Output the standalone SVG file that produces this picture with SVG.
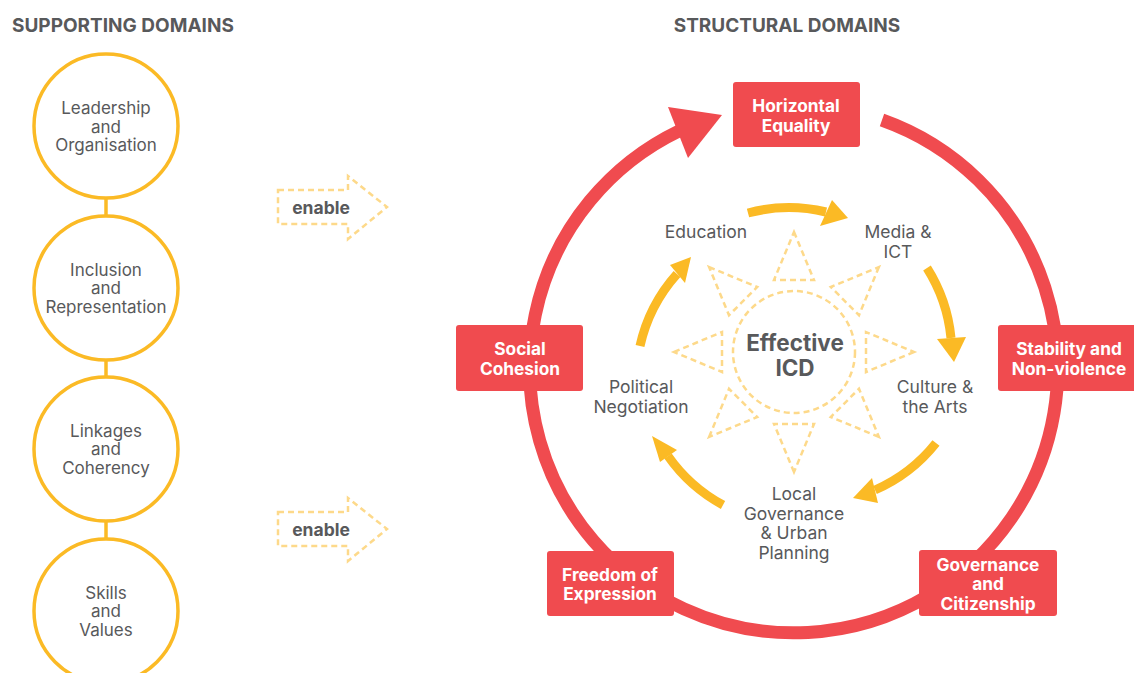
<svg xmlns="http://www.w3.org/2000/svg" width="1134" height="673" viewBox="0 0 1134 673">
<style>
.hd{font-family:Inter,"Liberation Sans",sans-serif;font-weight:700;font-size:19px;fill:#58595B;}
.lt{font-family:Inter,"Liberation Sans",sans-serif;font-size:17.5px;fill:#58595B;text-anchor:middle;}
.ct{font-family:Inter,"Liberation Sans",sans-serif;font-size:17px;fill:#58595B;text-anchor:middle;}
.bt{font-family:Inter,"Liberation Sans",sans-serif;font-weight:700;font-size:17.3px;fill:#fff;text-anchor:middle;}
.en{font-family:Inter,"Liberation Sans",sans-serif;font-weight:700;font-size:17.5px;fill:#58595B;text-anchor:middle;}
.ctr{font-family:Inter,"Liberation Sans",sans-serif;font-weight:700;font-size:22.5px;fill:#58595B;text-anchor:middle;}
.sc{fill:#fff;stroke:#FBBA25;stroke-width:3.5;}
.dash{fill:none;stroke:#FDD98A;stroke-width:2.5;stroke-dasharray:6 4;}
.box{fill:#F04B4F;}
.ya{fill:none;stroke:#FBBA25;stroke-width:9;}
.yh{fill:#FBBA25;}
</style>
<rect width="1134" height="673" fill="#fff"/>
<text class="hd" x="12" y="32">SUPPORTING DOMAINS</text>
<text class="hd" x="787" y="32" text-anchor="middle">STRUCTURAL DOMAINS</text>

<g id="connectors">
  <line x1="106" y1="198" x2="106" y2="216" stroke="#FBBA25" stroke-width="3.5"/>
  <line x1="106" y1="360" x2="106" y2="377" stroke="#FBBA25" stroke-width="3.5"/>
  <line x1="106" y1="521" x2="106" y2="539" stroke="#FBBA25" stroke-width="3.5"/>
  <g id="enable1">
    <polygon class="dash" points="278,190 348,190 348,176 387,207 348,239 348,224 278,224"/>
    <text class="en" x="321" y="214">enable</text>
  </g>
  <g id="enable2">
    <polygon class="dash" points="278,512 348,512 348,498 387,529 348,561 348,546 278,546"/>
    <text class="en" x="321" y="536">enable</text>
  </g>
  <g id="red-cycle">
    <path d="M 882 120 A 264 264 0 1 1 679 131" fill="none" stroke="#F04B4F" stroke-width="13"/>
    <polygon fill="#F04B4F" points="668,107 722,115 688,158"/>
  </g>
  <g id="yellow-cycle">
    <path class="ya" d="M 748 213 A 160 160 0 0 1 826 212"/>
    <polygon class="yh" points="832,200 848,218 820,226"/>
    <path class="ya" d="M 927 268 A 160 160 0 0 1 951 338"/>
    <polygon class="yh" points="937,339 966,337 954,362"/>
    <path class="ya" d="M 936 443 A 160 160 0 0 1 875 490"/>
    <polygon class="yh" points="872,478 878,503 853,498"/>
    <path class="ya" d="M 723 505 A 160 160 0 0 1 668 456"/>
    <polygon class="yh" points="677,450 660,462 652,436"/>
    <path class="ya" d="M 640 346 A 160 160 0 0 1 677 274"/>
    <polygon class="yh" points="670,265 685,283 691,257"/>
  </g>
</g>

<g id="sun">
  <circle class="dash" cx="794" cy="352" r="61"/>
  <polygon class="dash" points="794,232 814,280 774,280"/>
  <polygon class="dash" points="878.9,267.1 859,315.2 830.8,287"/>
  <polygon class="dash" points="914,352 866,372 866,332"/>
  <polygon class="dash" points="878.9,436.9 830.8,417 859,388.8"/>
  <polygon class="dash" points="794,472 774,424 814,424"/>
  <polygon class="dash" points="709.1,436.9 729,388.8 757.2,417"/>
  <polygon class="dash" points="674,352 722,332 722,372"/>
  <polygon class="dash" points="709.1,267.1 757.2,287 729,315.2"/>
</g>
<g id="effective-icd">
  <text class="ctr" x="795" y="351">Effective</text>
  <text class="ctr" x="795" y="376">ICD</text>
</g>

<g id="leadership">
  <circle class="sc" cx="106" cy="126" r="72"/>
  <text class="ct" x="106" y="114">Leadership</text>
  <text class="ct" x="106" y="132.5">and</text>
  <text class="ct" x="106" y="151">Organisation</text>
</g>
<g id="inclusion">
  <circle class="sc" cx="106" cy="288" r="72"/>
  <text class="ct" x="106" y="275.5">Inclusion</text>
  <text class="ct" x="106" y="294">and</text>
  <text class="ct" x="106" y="312.5">Representation</text>
</g>
<g id="linkages">
  <circle class="sc" cx="106" cy="449" r="72"/>
  <text class="ct" x="106" y="436.5">Linkages</text>
  <text class="ct" x="106" y="455">and</text>
  <text class="ct" x="106" y="473.5">Coherency</text>
</g>
<g id="skills">
  <circle class="sc" cx="106" cy="611" r="72"/>
  <text class="ct" x="106" y="598.5">Skills</text>
  <text class="ct" x="106" y="617">and</text>
  <text class="ct" x="106" y="635.5">Values</text>
</g>

<g id="horizontal-equality">
  <rect class="box" x="733" y="82" width="127" height="65" rx="3"/>
  <text class="bt" x="796" y="112">Horizontal</text>
  <text class="bt" x="796" y="132">Equality</text>
</g>
<g id="social-cohesion">
  <rect class="box" x="456" y="325" width="127" height="66" rx="3"/>
  <text class="bt" x="520" y="355">Social</text>
  <text class="bt" x="520" y="375">Cohesion</text>
</g>
<g id="stability">
  <rect class="box" x="998" y="325" width="145" height="66" rx="3"/>
  <text class="bt" x="1069" y="355">Stability and</text>
  <text class="bt" x="1069" y="375">Non-violence</text>
</g>
<g id="freedom">
  <rect class="box" x="547" y="551" width="127" height="65" rx="3"/>
  <text class="bt" x="610" y="581">Freedom of</text>
  <text class="bt" x="610" y="600">Expression</text>
</g>
<g id="governance">
  <rect class="box" x="919" y="550" width="138" height="66" rx="3"/>
  <text class="bt" x="988" y="571">Governance</text>
  <text class="bt" x="988" y="590">and</text>
  <text class="bt" x="988" y="610">Citizenship</text>
</g>

<g id="education"><text class="lt" x="706" y="238">Education</text></g>
<g id="media"><text class="lt" x="898" y="238">Media &amp;</text><text class="lt" x="898" y="258">ICT</text></g>
<g id="culture"><text class="lt" x="935" y="393">Culture &amp;</text><text class="lt" x="935" y="413">the Arts</text></g>
<g id="local-governance">
  <text class="lt" x="794" y="500">Local</text>
  <text class="lt" x="794" y="520">Governance</text>
  <text class="lt" x="794" y="539">&amp; Urban</text>
  <text class="lt" x="794" y="559">Planning</text>
</g>
<g id="political"><text class="lt" x="641" y="393">Political</text><text class="lt" x="641" y="413">Negotiation</text></g>
</svg>
